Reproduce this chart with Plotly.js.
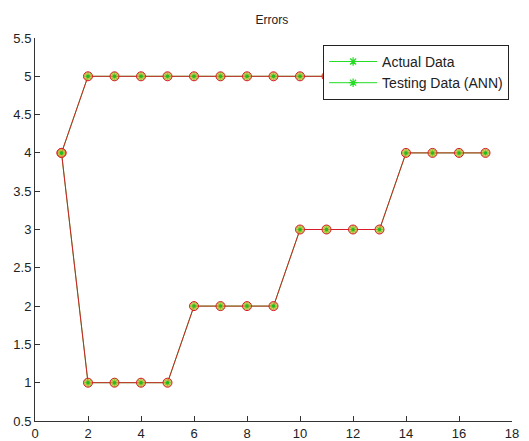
<!DOCTYPE html>
<html>
<head>
<meta charset="utf-8">
<script src="https://cdn.plot.ly/plotly-3.0.1.min.js"></script>
<style>html,body{margin:0;padding:0;background:#fff;}#chart{width:529px;height:441px;}</style>
</head>
<body>
<div id="chart"></div>
<script>
var samples = [1,2,3,4,5,6,7,8,9,10,11,12,13,14,15,16,17];
var actualData = [4,1,1,1,1,2,2,2,2,3,3,3,3,4,4,4,4];
var testingData = [4,5,5,5,5,5,5,5,5,5,5,5,5,5,5,5,5];
var seriesNames = ['Actual Data', 'Testing Data (ANN)'];

var green = '#22dd22';
var red = '#d81c2c';
var seriesList = [actualData, testingData];
var traces = [];
seriesList.forEach(function(vals, i){
  traces.push({x: samples, y: vals, name: seriesNames[i], mode: 'lines+markers',
    line: {color: green, width: 1},
    marker: {symbol: 'asterisk-open', size: 7, color: green, line: {color: green, width: 1.2}}});
});
seriesList.forEach(function(vals){
  traces.push({x: samples, y: vals, showlegend: false, mode: 'lines+markers', hoverinfo: 'skip',
    line: {color: red, width: 1},
    marker: {symbol: 'circle', size: 9, color: 'rgba(200,185,60,0.75)', line: {color: red, width: 1}}});
});
seriesList.forEach(function(vals){
  traces.push({x: samples, y: vals, showlegend: false, mode: 'markers', hoverinfo: 'skip',
    marker: {symbol: 'circle', size: 3.5, color: '#22bb22'}});
});

var layout = {
  width: 529, height: 441,
  margin: {l: 35, r: 17, t: 38, b: 20},
  paper_bgcolor: '#fff', plot_bgcolor: '#fff',
  font: {family: 'Liberation Sans, Arial, sans-serif', size: 13, color: '#222'},
  title: {text: 'Errors', font: {size: 12, color: '#222'}, x: 0.514, xanchor: 'center', y: 0.955, yanchor: 'middle'},
  showlegend: true,
  legend: {x: 0.604, y: 0.982, xanchor: 'left', yanchor: 'top', bgcolor: '#fff',
    bordercolor: '#222', borderwidth: 1, font: {size: 14, color: '#222'},
    tracegroupgap: 0, itemwidth: 48},
  xaxis: {range: [0, 18], dtick: 2, tick0: 0, ticks: 'inside', ticklen: 5, tickcolor: '#333',
    showgrid: false, zeroline: false, showline: true, linecolor: '#333', linewidth: 1,
    mirror: false, tickfont: {size: 13, color: '#222'}, fixedrange: true},
  yaxis: {range: [0.5, 5.5], dtick: 0.5, tick0: 0.5, ticks: 'inside', ticklen: 5, tickcolor: '#333',
    showgrid: false, zeroline: false, showline: true, linecolor: '#333', linewidth: 1,
    mirror: false, tickfont: {size: 13, color: '#222'}, fixedrange: true}
};
Plotly.newPlot('chart', traces, layout, {displayModeBar: false, staticPlot: true});
</script>
</body>
</html>
